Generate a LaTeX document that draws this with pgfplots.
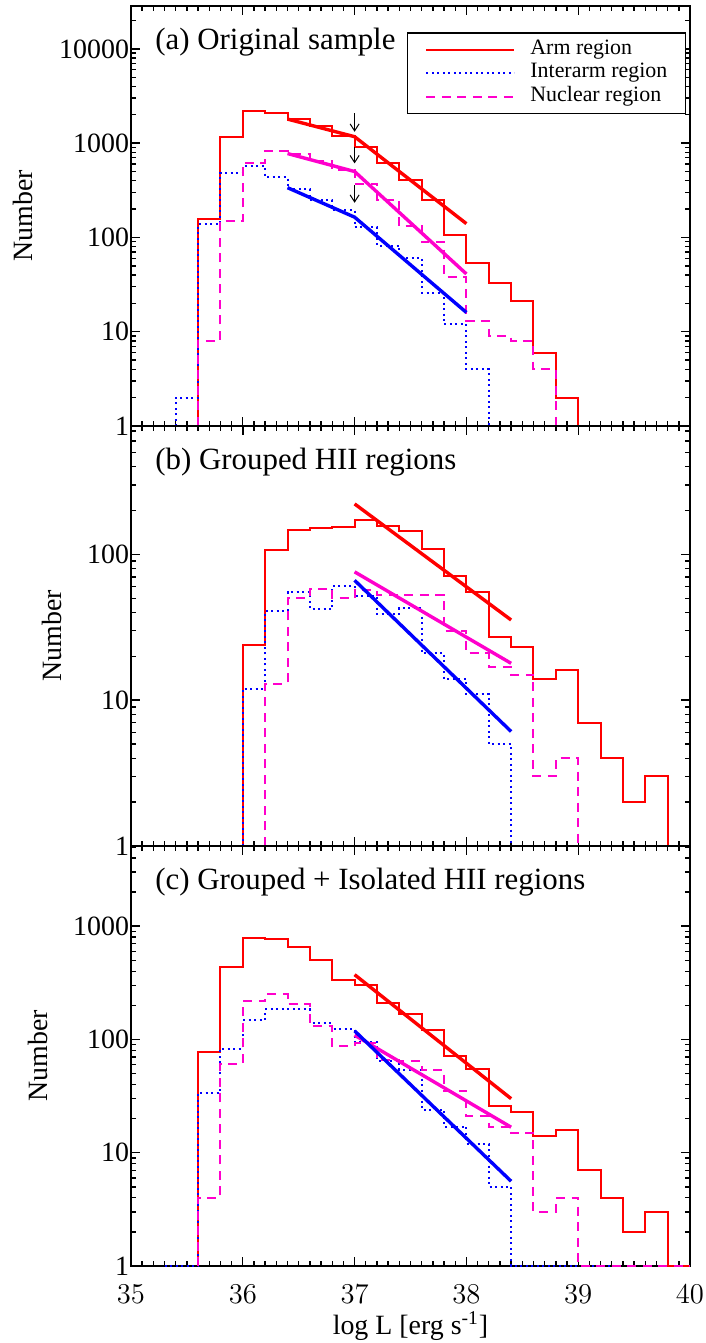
\documentclass[border=0pt]{standalone}
\usepackage{fontspec}
\setmainfont{Liberation Serif}
\usepackage{pgfplots}
\pgfplotsset{compat=1.18}
\usetikzlibrary{arrows.meta}
\definecolor{nucmag}{HTML}{FF00CC}

\pgfplotsset{
  every axis/.append style={
    scale only axis, width=279.5bp, height=210bp,
    xmin=35, xmax=40, ymin=1,
    xtick={35,36,37,38,39,40}, minor x tick num=9,
    tick align=inside, major tick length=4.5bp, minor tick length=2.5bp,
    tick style={black, line width=0.7bp},
    axis line style={line width=1bp},
    tick label style={font=\fontsize{14}{16}\selectfont},
    label style={font=\fontsize{14}{16}\selectfont},
    yticklabel style={xshift=2.5bp},
    xticklabel style={yshift=-6bp},
    ylabel={Number},
  },
}
% long legend sample, with a gap before the text
\pgfplotsset{legend image code/.code={\draw[#1] (0bp,0bp) -- (44bp,0bp); \path (51.5bp,0bp);}}

\begin{document}
\begin{tikzpicture}

% ---- (a) original sample ----
\begin{semilogyaxis}[at={(0,420bp)}, anchor=south west,
  ymax=28500, xticklabels={},
  ytick={1,10,100,1000,10000}, yticklabels={1,10,100,1000,10000},
  minor ytick={2,3,4,5,6,7,8,9,20,30,40,50,60,70,80,90,200,300,400,500,600,700,800,900,2000,3000,4000,5000,6000,7000,8000,9000,20000},
  ylabel style={at={(axis description cs:-0.193,0.5)}, anchor=center},
  legend style={at={(rel axis cs:0.993,0.938)}, anchor=north east,
    draw=black, line width=0.75bp, fill=white,
    font=\fontsize{11}{13}\selectfont, inner xsep=9bp, inner ysep=2.6bp,
    row sep=0pt, cells={anchor=west},
    nodes={inner sep=0pt, text height=8.25bp, text depth=3.5bp}},
]
\addplot[red, line width=1bp, const plot] coordinates {(35.6,1) (35.6,155) (35.8,1170) (36.0,2190) (36.2,2070) (36.4,1800)
  (36.6,1515) (36.8,1186) (37.0,913) (37.2,622) (37.4,404) (37.6,252) (37.8,105) (38.0,54)
  (38.2,33) (38.4,21) (38.6,6) (38.8,2) (39.0,1) (39.4,1)};
\addlegendentry{Arm region}
\addplot[blue, line width=1bp, dash pattern=on 1bp off 1.75bp, const plot] coordinates {(35.3,1) (35.4,2) (35.6,138) (35.8,482) (36.0,575) (36.2,438)
  (36.4,324) (36.6,248) (36.8,196) (37.0,129) (37.2,82) (37.4,61) (37.6,26) (37.8,12)
  (38.0,4) (38.2,1) (38.7,1)};
\addlegendentry{Interarm region}
\addplot[nucmag, line width=1bp, dash pattern=on 4.5bp off 3.25bp, const plot] coordinates {(35.6,1) (35.6,8) (35.8,149) (36.0,620) (36.2,830) (36.4,776)
  (36.6,640) (36.8,525) (37.0,372) (37.2,251) (37.4,132) (37.6,89) (37.8,38) (38.0,13)
  (38.2,9) (38.4,8) (38.6,4) (38.8,1) (39.0,1)};
\addlegendentry{Nuclear region}
% broken power-law fits
\addplot[red, line width=1.7bp, forget plot] coordinates {(36.4,1800) (37.0,1170) (38.0,140)};
\addplot[nucmag, line width=1.7bp, forget plot] coordinates {(36.4,776) (37.0,500) (38.0,41)};
\addplot[blue, line width=1.7bp, forget plot] coordinates {(36.4,337) (37.0,164) (38.0,16)};
% break-point arrows
\addplot[black, line width=0.5bp, -{Straight Barb[length=3.5bp,width=4.5bp]}, forget plot] coordinates {(37,2080) (37,1320)};
\addplot[black, line width=0.5bp, -{Straight Barb[length=3.5bp,width=4.5bp]}, forget plot] coordinates {(37,913) (37,610)};
\addplot[black, line width=0.5bp, -{Straight Barb[length=3.5bp,width=4.5bp]}, forget plot] coordinates {(37,358) (37,233)};
\node[anchor=base west, inner sep=0pt, font=\fontsize{15.5}{18}\selectfont]
  at ([xshift=12bp,yshift=-22bp]rel axis cs:0,1) {(a) Original sample};
\end{semilogyaxis}

% ---- (b) grouped HII regions ----
\begin{semilogyaxis}[at={(0,210bp)}, anchor=south west,
  ymax=760, xticklabels={},
  ytick={1,10,100}, yticklabels={1,10,100},
  minor ytick={2,3,4,5,6,7,8,9,20,30,40,50,60,70,80,90,200,300,400,500,600,700},
  ylabel style={at={(axis description cs:-0.141,0.5)}, anchor=center},
]
\addplot[red, line width=1bp, const plot] coordinates {(36.0,1) (36.0,24) (36.2,107) (36.4,146) (36.6,151) (36.8,155)
  (37.0,171) (37.2,157) (37.4,145) (37.6,109) (37.8,71) (38.0,55) (38.2,27) (38.4,23)
  (38.6,14) (38.8,16) (39.0,7) (39.2,4) (39.4,2) (39.6,3) (39.8,1) (40.0,1)};
\addplot[blue, line width=1bp, dash pattern=on 1bp off 1.75bp, const plot] coordinates {(35.75,1) (36.0,12) (36.2,41) (36.4,55) (36.6,42) (36.8,61)
  (37.0,52) (37.2,39) (37.4,43) (37.6,21) (37.8,14) (38.0,11) (38.2,5) (38.4,1) (39.8,1)};
\addplot[nucmag, line width=1bp, dash pattern=on 4.5bp off 3.25bp, const plot] coordinates {(36.2,1) (36.2,13) (36.4,50) (36.6,58) (36.8,50) (37.0,57)
  (37.2,53) (37.4,53) (37.6,53) (37.8,30) (38.0,21) (38.2,17) (38.4,15) (38.6,3) (38.8,4)
  (39.0,1) (40.0,1)};
\addplot[red, line width=1.7bp] coordinates {(37.0,222) (38.4,35.5)};
\addplot[nucmag, line width=1.7bp] coordinates {(37.0,75.9) (38.4,17.9)};
\addplot[blue, line width=1.7bp] coordinates {(37.0,66.4) (38.4,6.1)};
\node[anchor=base west, inner sep=0pt, font=\fontsize{15.5}{18}\selectfont]
  at ([xshift=12bp,yshift=-22bp]rel axis cs:0,1) {(b) Grouped HII regions};
\end{semilogyaxis}

% ---- (c) grouped + isolated HII regions ----
\begin{semilogyaxis}[at={(0,0)}, anchor=south west,
  ymax=5100,
  ytick={1,10,100,1000}, yticklabels={1,10,100,1000},
  minor ytick={2,3,4,5,6,7,8,9,20,30,40,50,60,70,80,90,200,300,400,500,600,700,800,900,2000,3000,4000,5000},
  ylabel style={at={(axis description cs:-0.166,0.5)}, anchor=center},
  xlabel={log L [erg s\textsuperscript{-1}]},
  xlabel style={at={(axis description cs:0.5,0)}, anchor=center, yshift=-30bp},
]
\addplot[red, line width=1bp, const plot] coordinates {(35.6,1) (35.6,77) (35.8,436) (36.0,789) (36.2,763) (36.4,653)
  (36.6,499) (36.8,337) (37.0,300) (37.2,210) (37.4,169) (37.6,121) (37.8,71) (38.0,55)
  (38.2,26) (38.4,23) (38.6,14) (38.8,16) (39.0,7) (39.2,4) (39.4,2) (39.6,3) (39.8,1) (40.0,1)};
\addplot[blue, line width=1bp, dash pattern=on 1bp off 1.75bp, const plot] coordinates {(35.3,1) (35.6,34) (35.8,83) (36.0,148) (36.2,184) (36.4,184)
  (36.6,140) (36.8,123) (37.0,95) (37.2,65) (37.4,54) (37.6,24) (37.8,17) (38.0,12)
  (38.2,5) (38.4,1) (39.3,1)};
\addplot[nucmag, line width=1bp, dash pattern=on 4.5bp off 3.25bp, const plot] coordinates {(35.6,1) (35.6,4) (35.8,61) (36.0,217) (36.2,250) (36.4,205)
  (36.6,131) (36.8,87) (37.0,93) (37.2,66) (37.4,64) (37.6,54) (37.8,35) (38.0,21)
  (38.2,17) (38.4,15) (38.6,3) (38.8,4) (39.0,1) (40.0,1)};
\addplot[red, line width=1.7bp] coordinates {(37.0,373) (38.4,30)};
\addplot[nucmag, line width=1.7bp] coordinates {(37.0,109) (38.4,16.8)};
\addplot[blue, line width=1.7bp] coordinates {(37.0,119) (38.4,5.6)};
\node[anchor=base west, inner sep=0pt, font=\fontsize{15.5}{18}\selectfont]
  at ([xshift=12bp,yshift=-22bp]rel axis cs:0,1) {(c) Grouped + Isolated HII regions};
\end{semilogyaxis}

\pgfresetboundingbox
\path[use as bounding box] (-65.5bp,-38.5bp) rectangle (287.5bp,633bp);
\end{tikzpicture}
\end{document}
